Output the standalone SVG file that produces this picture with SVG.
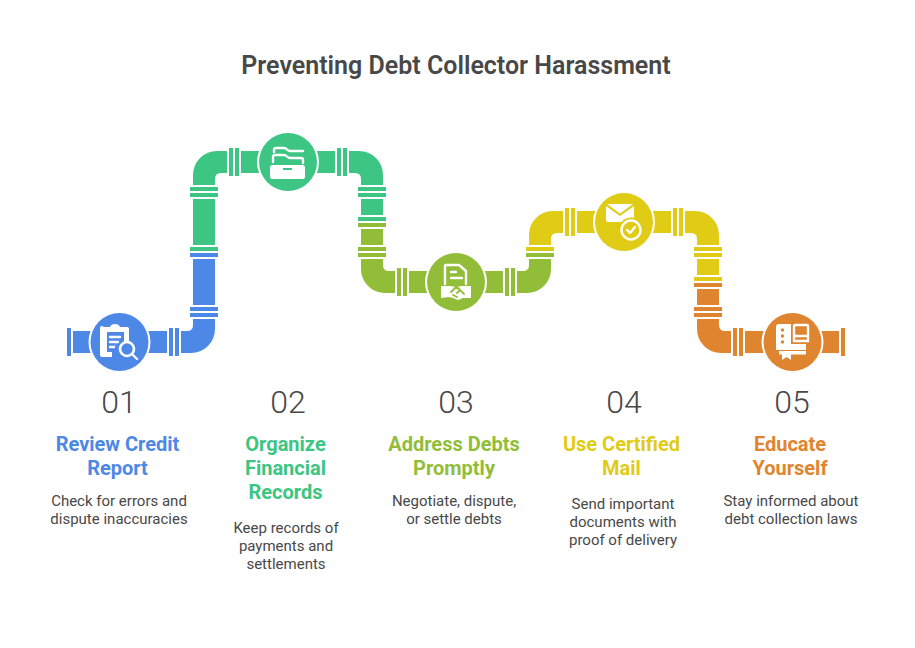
<svg xmlns="http://www.w3.org/2000/svg" width="915" height="648" viewBox="0 0 915 648">
<style>
text{font-family:Roboto,"Liberation Sans",sans-serif;text-anchor:middle}
.t{font-size:25px;font-weight:600;fill:#484848}
.n{font-size:32px;font-weight:350;fill:#484848}
.h{font-size:20px;font-weight:700}
.b{font-size:15px;fill:#484848}
.blue{fill:#4e88e7}.green{fill:#3cc583}.olive{fill:#92bd39}.yellow{fill:#e0cb15}.orange{fill:#e0852f}
.w{fill:#fff}
.ws{fill:none;stroke:#fff;stroke-width:2.400;stroke-linecap:round;stroke-linejoin:round}
.ring{fill:#fff}
</style>
<rect width="915" height="648" fill="#fff"/>
<text class="t" x="456" y="74">Preventing Debt Collector Harassment</text>
<g id="connectors">
<g class="blue">
<rect x="67" y="328" width="4" height="28"/><rect x="73" y="331" width="40" height="22"/>
<rect x="130" y="331" width="37" height="22"/><rect x="169" y="328" width="4" height="28"/><rect x="175" y="328" width="4" height="28"/>
<path d="M181 331h6q6 0 6-6v-6h22v10a24 24 0 0 1-24 24h-10z"/>
<rect x="190" y="313" width="28" height="4"/><rect x="190" y="307" width="28" height="4"/>
<rect x="193" y="259" width="22" height="46"/><rect x="190" y="253" width="28" height="4"/>
</g>
<g class="green">
<rect x="190" y="247" width="28" height="4"/><rect x="193" y="199" width="22" height="46"/>
<rect x="190" y="193" width="28" height="4"/><rect x="190" y="187" width="28" height="4"/>
<path d="M193 185v-10a24 24 0 0 1 24-24h10v22h-6q-6 0-6 6v6z"/>
<rect x="229" y="148" width="4" height="28"/><rect x="235" y="148" width="4" height="28"/>
<rect x="241" y="151" width="30" height="22"/><rect x="300" y="151" width="35" height="22"/>
<rect x="337" y="148" width="4" height="28"/><rect x="343" y="148" width="4" height="28"/>
<path d="M349 151h10a24 24 0 0 1 24 24v10h-22v-6q0-6-6-6h-6z"/>
<rect x="358" y="187" width="28" height="4"/><rect x="358" y="193" width="28" height="4"/>
<rect x="361" y="199" width="22" height="16"/><rect x="358" y="217" width="28" height="4"/>
</g>
<g class="olive">
<rect x="358" y="223" width="28" height="4"/><rect x="361" y="229" width="22" height="16"/>
<rect x="358" y="247" width="28" height="4"/><rect x="358" y="253" width="28" height="4"/>
<path d="M361 259h22v6q0 6 6 6h6v22h-10a24 24 0 0 1-24-24z"/>
<rect x="397" y="268" width="4" height="28"/><rect x="403" y="268" width="4" height="28"/>
<rect x="409" y="271" width="30" height="22"/><rect x="470" y="271" width="33" height="22"/>
<rect x="505" y="268" width="4" height="28"/><rect x="511" y="268" width="4" height="28"/>
<path d="M517 271h6q6 0 6-6v-6h22v10a24 24 0 0 1-24 24h-10z"/>
<rect x="526" y="253" width="28" height="4"/>
</g>
<g class="yellow">
<rect x="526" y="247" width="28" height="4"/>
<path d="M529 245v-10a24 24 0 0 1 24-24h10v22h-6q-6 0-6 6v6z"/>
<rect x="565" y="208" width="4" height="28"/><rect x="571" y="208" width="4" height="28"/>
<rect x="577" y="211" width="30" height="22"/><rect x="640" y="211" width="31" height="22"/>
<rect x="673" y="208" width="4" height="28"/><rect x="679" y="208" width="4" height="28"/>
<path d="M685 211h10a24 24 0 0 1 24 24v10h-22v-6q0-6-6-6h-6z"/>
<rect x="694" y="247" width="28" height="4"/><rect x="694" y="253" width="28" height="4"/>
<rect x="697" y="259" width="22" height="16"/><rect x="694" y="277" width="28" height="4"/>
</g>
<g class="orange">
<rect x="694" y="283" width="28" height="4"/><rect x="697" y="289" width="22" height="16"/>
<rect x="694" y="307" width="28" height="4"/><rect x="694" y="313" width="28" height="4"/>
<path d="M697 319h22v6q0 6 6 6h6v22h-10a24 24 0 0 1-24-24z"/>
<rect x="733" y="328" width="4" height="28"/><rect x="739" y="328" width="4" height="28"/>
<rect x="745" y="331" width="30" height="22"/><rect x="810" y="331" width="29" height="22"/>
<rect x="841" y="328" width="4" height="28"/>
</g>
</g>
<g id="node-1">
<circle class="ring" cx="119.500" cy="342" r="31"/><circle class="blue" cx="119.500" cy="342" r="29"/>
<path class="w" d="M104 327h6q1-3 5-3t5 3h7q2 0 2 2v13h-11l-6 6v9h-10q-2 0-2-2v-27q0-2 2-2z"/>
<path class="blue" d="M107 332h17v10h-6l-5 5v5h-6z"/>
<path class="ws" stroke-width="2" d="M110 337h10M110 342h8M110 347h4"/>
<circle cx="127" cy="349" r="7" fill="#4e88e7" stroke="#fff" stroke-width="2.600"/>
<path class="ws" d="M132 354l5 5"/>
<text class="n" x="119" y="413">01</text>
<text class="h blue" x="117.500" y="451">Review Credit</text>
<text class="h blue" x="117.500" y="475">Report</text>
<text class="b" x="119" y="506">Check for errors and</text>
<text class="b" x="119" y="524">dispute inaccuracies</text>
</g>
<g id="node-2">
<circle class="ring" cx="288" cy="162" r="31"/><circle class="green" cx="288" cy="162" r="29"/>
<path class="ws" d="M274 152v-2q0-2 2-2h8c3 0 3 3 6 3h13"/>
<path class="ws" d="M273 162v-5q0-2 2-2h9c3 0 3 3 6 3h11q2 0 2 2v3"/>
<rect class="w" x="270" y="165" width="35" height="14" rx="2.500"/>
<rect class="green" x="283" y="168" width="9" height="2"/>
<text class="n" x="288" y="413">02</text>
<text class="h green" x="285.500" y="451">Organize</text>
<text class="h green" x="285.500" y="475">Financial</text>
<text class="h green" x="285.500" y="499">Records</text>
<text class="b" x="286" y="533">Keep records of</text>
<text class="b" x="286" y="551">payments and</text>
<text class="b" x="286" y="569">settlements</text>
</g>
<g id="node-3">
<circle class="ring" cx="456" cy="282" r="31"/><circle class="olive" cx="456" cy="282" r="29"/>
<path class="ws" d="M445 284v-18q0-1 1-1h13l7 6v13"/>
<path class="ws" d="M451 272h5M451 278h11"/>
<path class="w" d="M441 286h9l6 1 6-1h9v12h-8l-5 2-5-2-4-1-8 1z"/>
<path fill="none" stroke="#92bd39" stroke-width="1.800" stroke-linecap="round" d="M451 292l4-4h3l6 6M453 295l4 2M460 290l-3 3"/>
<text class="n" x="456" y="413">03</text>
<text class="h olive" x="454" y="451">Address Debts</text>
<text class="h olive" x="454" y="475">Promptly</text>
<text class="b" x="454" y="506">Negotiate, dispute,</text>
<text class="b" x="454" y="524">or settle debts</text>
</g>
<g id="node-4">
<circle class="ring" cx="624" cy="222" r="31"/><circle class="yellow" cx="624" cy="222" r="29"/>
<path class="w" d="M606 206l14 10 14-10v16h-26q-2 0-2-2z"/>
<path class="w" d="M607 204h26l-13 9.500z"/>
<circle class="yellow" cx="631" cy="230" r="12.500"/>
<circle cx="631" cy="230" r="9.500" fill="none" stroke="#fff" stroke-width="2.400"/>
<path fill="none" stroke="#fff" stroke-width="2.400" stroke-linecap="round" stroke-linejoin="round" d="M627 230l3 3 5-6"/>
<text class="n" x="624" y="413">04</text>
<text class="h yellow" x="621.500" y="451">Use Certified</text>
<text class="h yellow" x="621.500" y="475">Mail</text>
<text class="b" x="623" y="509">Send important</text>
<text class="b" x="623" y="527">documents with</text>
<text class="b" x="623" y="545">proof of delivery</text>
</g>
<g id="node-5">
<circle class="ring" cx="792.500" cy="342" r="31"/><circle class="orange" cx="792.500" cy="342" r="29"/>
<path class="w" d="M779 324h12v20h15v6h-30v-23q0-3 3-3z"/>
<circle class="orange" cx="782.500" cy="330" r="1.700"/><circle class="orange" cx="782.500" cy="336" r="1.700"/><circle class="orange" cx="782.500" cy="342" r="1.700"/>
<path fill="#e0852f" stroke="#fff" stroke-width="2.400" d="M794 341v-15q0-1 1-1h12q1 0 1 1v15z"/>
<path class="ws" d="M795 336h12"/>
<rect class="w" x="779" y="351" width="27" height="3.500"/>
<path class="w" d="M782 354h9v6l-4.500-3-4.500 3z"/>
<text class="n" x="792" y="413">05</text>
<text class="h orange" x="790" y="451">Educate</text>
<text class="h orange" x="790" y="475">Yourself</text>
<text class="b" x="791" y="506">Stay informed about</text>
<text class="b" x="791" y="524">debt collection laws</text>
</g>
</svg>
